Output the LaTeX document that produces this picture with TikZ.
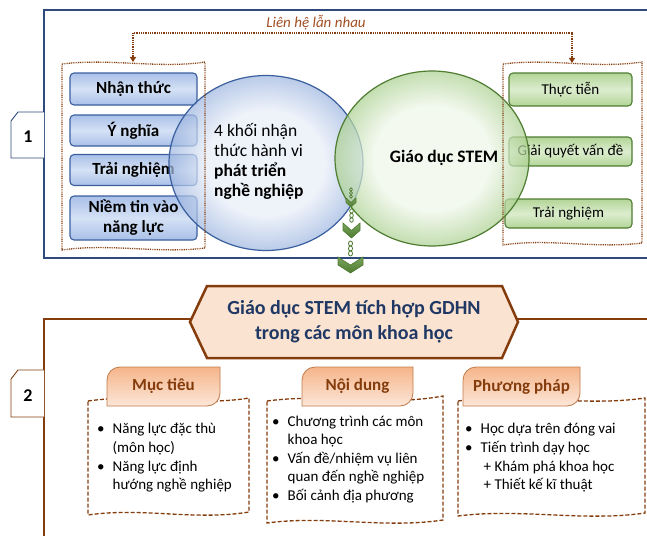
\documentclass[tikz,border=0pt]{standalone}
\usepackage{fontspec}
\setmainfont{Carlito}
\usetikzlibrary{arrows.meta,shapes.geometric}
\definecolor{navyfrm}{HTML}{2E4A7C}
\definecolor{blueedge}{HTML}{3A5F9E}
\definecolor{bluetop}{HTML}{A9C0E8}
\definecolor{bluemid}{HTML}{D5E1F5}
\definecolor{bluecore}{HTML}{E8EEF8}
\definecolor{bluering}{HTML}{9FB7E0}
\definecolor{greenedge}{HTML}{4F7D31}
\definecolor{greentop}{HTML}{B3D597}
\definecolor{greenmid}{HTML}{DCEDCF}
\definecolor{greencore}{HTML}{EEF6E8}
\definecolor{greenring}{HTML}{ACD192}
\definecolor{brownfrm}{HTML}{843C0C}
\definecolor{linkbrown}{HTML}{A24F24}
\definecolor{tabedge}{HTML}{C07A4A}
\definecolor{peachdk}{HTML}{F5B58A}
\definecolor{peachlt}{HTML}{FCE6D8}
\definecolor{hexfill}{HTML}{FBE3D2}
\definecolor{titlenavy}{HTML}{1F3864}
\definecolor{chevtop}{HTML}{7BA55C}
\definecolor{chevbot}{HTML}{4E7B31}
\pgfdeclareradialshading{bluedisc}{\pgfpoint{0bp}{0bp}}{color(0bp)=(bluecore); color(15bp)=(bluecore); color(25bp)=(bluering); color(50bp)=(bluering)}
\pgfdeclareradialshading{greendisc}{\pgfpoint{0bp}{0bp}}{color(0bp)=(greencore); color(15bp)=(greencore); color(25bp)=(greenring); color(50bp)=(greenring)}
\begin{document}
\begin{tikzpicture}[x=1pt,y=-1pt,
 frameone/.style={draw=navyfrm,line width=2pt},
 frametwo/.style={draw=brownfrm,line width=2.5pt},
 numtab/.style={fill=white,line width=0.9pt},
 numtxt/.style={font=\fontsize{18}{20}\selectfont\bfseries},
 bluebox/.style={draw=blueedge,line width=1.1pt,rounded corners=4pt,top color=bluetop,bottom color=bluetop,middle color=bluemid,minimum width=127pt,inner sep=0pt,align=center,font=\fontsize{17}{20}\selectfont\bfseries},
 greenbox/.style={draw=greenedge,line width=1.1pt,rounded corners=4pt,top color=greentop,bottom color=greentop,middle color=greenmid,inner sep=0pt,align=center,font=\fontsize{15}{18}\selectfont},
 disc/.style={ellipse,shade,minimum width=194pt,minimum height=175pt,fill opacity=0.72,line width=1.2pt},
 disctxt/.style={inner sep=0pt,font=\fontsize{17.5}{19.7}\selectfont},
 grpdotted/.style={draw=brownfrm,line width=1.3pt,dash pattern=on 0.9pt off 0.9pt},
 linkline/.style={draw=brownfrm,line width=1.3pt,dash pattern=on 0.9pt off 0.9pt,arrows={Triangle[width=6pt,length=5pt]-Triangle[width=6pt,length=5pt]}},
 linktxt/.style={text=linkbrown,font=\fontsize{15}{18}\selectfont\itshape},
 chevron/.style={draw=chevbot,line width=0.6pt,top color=chevtop,bottom color=chevbot},
 ovaldot/.style={draw=chevbot,fill=white,line width=0.8pt},
 hexbox/.style={draw=brownfrm,line width=2.5pt,fill=hexfill},
 hextxt/.style={text=titlenavy,align=center,font=\fontsize{20}{25}\selectfont\bfseries},
 tabshape/.style={draw=tabedge,line width=0.8pt,top color=peachdk,bottom color=peachlt},
 tabtxt/.style={text=brownfrm,font=\fontsize{17}{20}\selectfont\bfseries},
 wavedash/.style={draw=brownfrm,line width=1.3pt,dash pattern=on 4pt off 2pt},
 bullettxt/.style={inner sep=0pt,font=\fontsize{15}{18.6}\selectfont}]
 \useasboundingbox (0,0) rectangle (647,535);
 \draw[frameone] (648,10) -- (44,10) -- (44,258) -- (648,258);
 \draw[numtab,draw=navyfrm] (44,112) -- (18,112) -- (11,121) -- (11,158) -- (44,158);
 \node[numtxt] (one) at (28,137) {1};
 \node[bluebox,minimum height=32pt] (nhan) at (133.5,89) {Nhận thức};
 \node[bluebox,minimum height=31pt] (ynghia) at (133.5,130.5) {Ý nghĩa};
 \node[bluebox,minimum height=31pt] (trai) at (133.5,170) {Trải nghiệm};
 \node[bluebox,minimum height=44pt] (niem) at (133.5,218) {Niềm tin vào\\năng lực};
 \node[greenbox,minimum width=123pt,minimum height=33pt] (thuc) at (570.5,89.5) {Thực tiễn};
 \node[greenbox,minimum width=123pt,minimum height=29pt] (giai) at (570.5,151.5) {Giải quyết vấn đề};
 \node[greenbox,minimum width=127pt,minimum height=29pt] (traitn) at (568.5,213.5) {Trải nghiệm};
 \node[disc,shading=bluedisc,draw=blueedge] (khoi) at (266,163) {};
 \node[disc,shading=greendisc,draw=greenedge] (stem) at (432,158.5) {};
 \node[disctxt,anchor=west,align=left] (khoitxt) at (214,161.5) {4 khối nhận\\thức hành vi\\\textbf{phát triển}\\\textbf{nghề nghiệp}};
 \node[disctxt,font=\fontsize{17.5}{20}\selectfont\bfseries] (stemtxt) at (444,158) {Giáo dục STEM};
 \draw[grpdotted] (62,64) .. controls (110,58) and (160,69) .. (205,62) -- (205,248) .. controls (160,254) and (110,243) .. (62,250) -- cycle;
 \draw[grpdotted] (503,64) .. controls (550,58) and (595,69) .. (642,62) -- (642,243) .. controls (595,249) and (550,238) .. (503,245) -- cycle;
 \coordinate (lgrp) at (133,62);
 \coordinate (rgrp) at (572,63);
 \node[linktxt] (lnk) at (316,23) {Liên hệ lẫn nhau};
 \coordinate (lnkbar) at (316,33);
 \draw[linkline] (lgrp) |- (lnkbar) -| (rgrp);
 \draw[ovaldot] (351,189.5) ellipse (1.4 and 1.7);
 \draw[ovaldot] (351,193) ellipse (1.4 and 1.7);
 \draw[ovaldot] (351,196.5) ellipse (1.4 and 1.7);
 \draw[chevron] (346,198) -- (351,202.5) -- (356,198) -- (356,202.5) -- (351,207) -- (346,202.5) -- cycle;
 \draw[ovaldot] (351.5,211) ellipse (1.8 and 2.2);
 \draw[ovaldot] (351.5,215.5) ellipse (1.8 and 2.2);
 \draw[ovaldot] (351.5,220) ellipse (1.8 and 2.2);
 \draw[chevron] (343,223) -- (351.5,230.5) -- (360,223) -- (360,230.5) -- (351.5,238) -- (343,230.5) -- cycle;
 \draw[ovaldot] (350.5,243.5) ellipse (2 and 2.5);
 \draw[ovaldot] (350.5,248.5) ellipse (2 and 2.5);
 \draw[ovaldot] (350.5,253.5) ellipse (2 and 2.5);
 \draw[chevron] (338,257) -- (350.5,265) -- (363,257) -- (363,265) -- (350.5,273) -- (338,265) -- cycle;
 \draw[frametwo] (648,319) -- (44,319) -- (44,537);
 \draw[numtab,draw=brownfrm] (44,370) -- (18,370) -- (11,379) -- (11,417) -- (44,417);
 \node[numtxt] (two) at (28,396) {2};
 \draw[hexbox] (190,322) -- (207,286) -- (502,286) -- (518,322) -- (502,358) -- (207,358) -- cycle;
 \node[hextxt] (gdhn) at (354,322) {Giáo dục STEM tích hợp GDHN\\trong các môn khoa học};
 \draw[wavedash] (88,401) .. controls (142,393) and (195,407) .. (249,398) -- (249,512) .. controls (195,521) and (142,507) .. (88,515) -- cycle;
 \draw[wavedash] (267,401) .. controls (326,393) and (384,407) .. (443,396) -- (443,520) .. controls (384,529) and (326,515) .. (267,523) -- cycle;
 \draw[wavedash] (458,401) .. controls (520,393) and (583,407) .. (645,398) -- (645,513) .. controls (583,522) and (520,508) .. (458,516) -- cycle;
 \draw[tabshape] (107,406) -- (107,380) .. controls (107,372.8) and (112.8,367) .. (120,367) -- (220,367) -- (220,393) .. controls (220,400.2) and (214.2,406) .. (207,406) -- cycle;
 \node[tabtxt] (muc) at (163.5,386.5) {Mục tiêu};
 \draw[tabshape] (302,406) -- (302,380) .. controls (302,372.8) and (307.8,367) .. (315,367) -- (413,367) -- (413,393) .. controls (413,400.2) and (407.2,406) .. (400,406) -- cycle;
 \node[tabtxt] (noi) at (357.5,386.5) {Nội dung};
 \draw[tabshape] (463,406) -- (463,380) .. controls (463,372.8) and (468.8,367) .. (476,367) -- (580,367) -- (580,393) .. controls (580,400.2) and (574.2,406) .. (567,406) -- cycle;
 \node[tabtxt] (phuong) at (521.5,386.5) {Phương pháp};
 \node[bullettxt,anchor=west] (mucl) at (97,458) {\begin{tabular}{@{}l@{\hspace{8pt}}l@{}}\textbullet & Năng lực đặc thù\\ & (môn học)\\ \textbullet & Năng lực định\\ & hướng nghề nghiệp\end{tabular}};
 \node[bullettxt,anchor=west] (noil) at (272,459.5) {\begin{tabular}{@{}l@{\hspace{8pt}}l@{}}\textbullet & Chương trình các môn\\ & khoa học\\ \textbullet & Vấn đề/nhiệm vụ liên\\ & quan đến nghề nghiệp\\ \textbullet & Bối cảnh địa phương\end{tabular}};
 \node[bullettxt,anchor=west] (phuongl) at (465,458) {\begin{tabular}{@{}l@{\hspace{8pt}}l@{}}\textbullet & Học dựa trên đóng vai\\ \textbullet & Tiến trình dạy học\\ & \hspace{3pt}+ Khám phá khoa học\\ & \hspace{3pt}+ Thiết kế kĩ thuật\end{tabular}};
\end{tikzpicture}
\end{document}
